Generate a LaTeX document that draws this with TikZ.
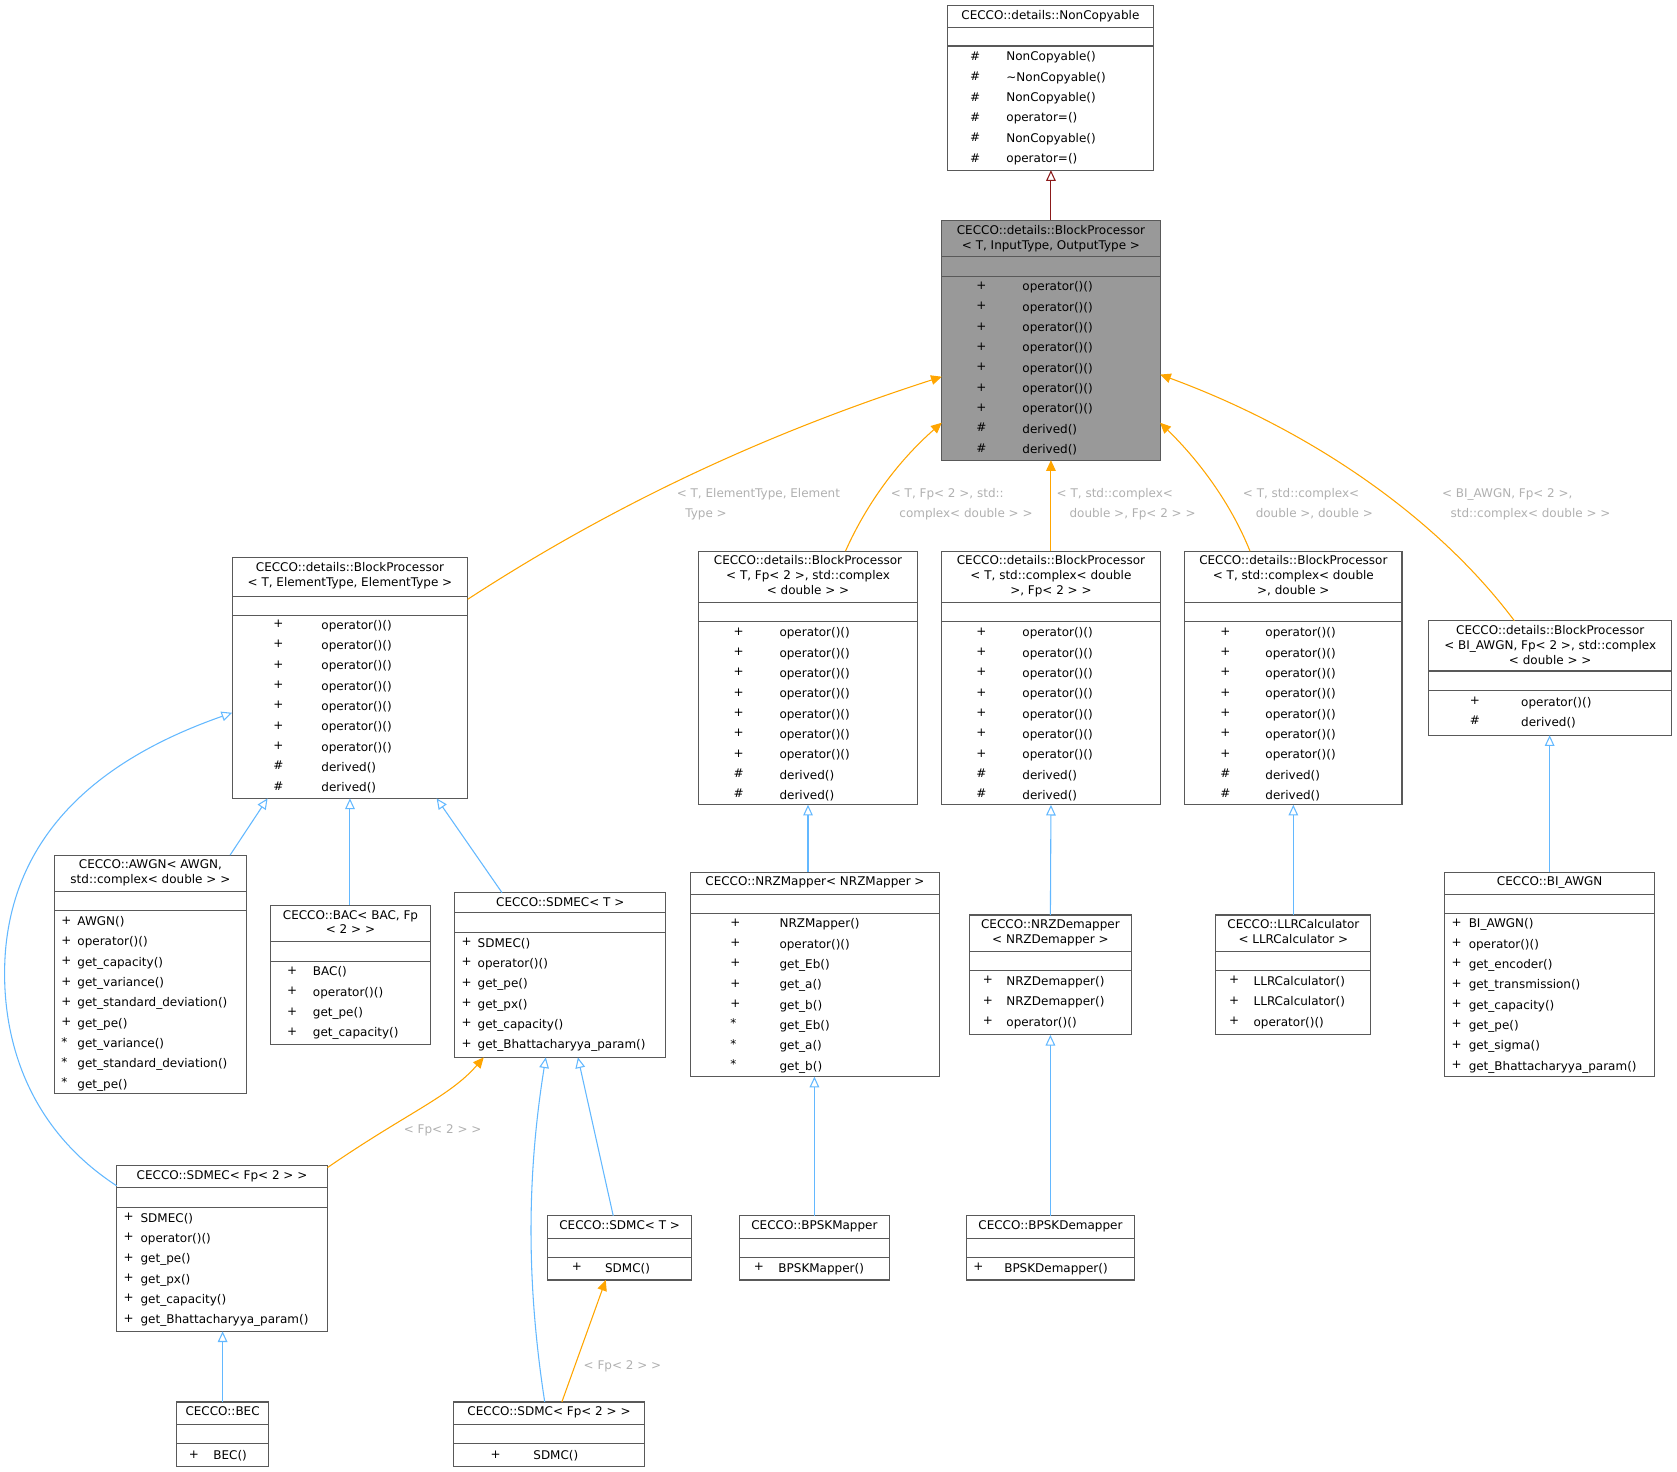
\documentclass[tikz,border=0pt]{standalone}
\usepackage{fontspec}
\setmainfont{DejaVu Sans}
\usetikzlibrary{arrows.meta, calc}
\definecolor{boxgray}{HTML}{999999}
\definecolor{inherit}{HTML}{63B8FF}
\definecolor{templ}{HTML}{FFA500}
\definecolor{ncred}{HTML}{8B1A1A}
\definecolor{lbl}{HTML}{B0B0B0}

% class box: name, x1, y1, x2, y2, title rule, attribute rule, title, fill
\newcommand{\classbox}[9]{%
  \node[draw=black!65, fill=#9, line width=0.5pt, inner sep=0, outer sep=0, anchor=north west,
    minimum width={(#4-#2)*0.5pt}, minimum height={(#5-#3)*0.5pt}] (#1) at (#2,#3) {};
  \draw[black!65, line width=0.5pt] (#2,#6) -- (#4,#6) (#2,#7) -- (#4,#7);
  \node[titletext, anchor=north] at ({(#2+#4)/2},#3+4) {#8};
}
% members: symbol x, name x, top y, symbols, names
\newcommand{\members}[5]{%
  \node[membertext, anchor=north west] at (#1,#3) {#4};
  \node[membertext, anchor=north west] at (#2,#3) {#5};
}
\def\symnine{+\\+\\+\\+\\+\\+\\+\\\#\\\#}
\def\opnine{operator()()\\operator()()\\operator()()\\operator()()\\operator()()\\operator()()\\operator()()\\derived()\\derived()}
\def\symsix{+\\+\\+\\+\\+\\+}
\def\sdmecops{SDMEC()\\operator()()\\get\_pe()\\get\_px()\\get\_capacity()\\get\_Bhattacharyya\_param()}

\begin{document}
\begin{tikzpicture}[x=0.5pt, y=-0.5pt,
  titletext/.style={inner sep=0, align=center, font=\fontsize{5.6}{7}\selectfont},
  membertext/.style={inner sep=0, align=left, font=\fontsize{5.6}{9.5}\selectfont},
  isa/.style={draw=inherit, line width=0.5pt, -{Triangle[open, length=5pt, width=4.5pt]}},
  tpl/.style={draw=templ, line width=0.5pt, -{Triangle[length=5pt, width=4.5pt, fill=templ]}},
  tpllabel/.style={text=lbl, align=left, inner sep=0, font=\fontsize{5.6}{9.5}\selectfont}]
  \useasboundingbox (0,0) rectangle (1567,1375);

% CLASSES

  \classbox{noncopy}{885}{5}{1078}{159}{26}{43}{CECCO::details::NonCopyable}{white}
  \members{906}{940}{48}{\#\\\#\\\#\\\#\\\#\\\#}{NonCopyable()\\\char"007ENonCopyable()\\NonCopyable()\\operator=()\\NonCopyable()\\operator=()}

  \classbox{bpmain}{880}{206}{1084}{430}{240}{258}{CECCO::details::BlockProcessor\\< T, InputType, OutputType >}{boxgray}
  \members{912}{955}{263}{\symnine}{\opnine}

  \classbox{bpelem}{217}{521}{437}{746}{557}{575}{CECCO::details::BlockProcessor\\< T, ElementType, ElementType >}{white}
  \members{255}{300}{579}{\symnine}{\opnine}

  \classbox{bpfpc}{653}{515}{857}{752}{563}{581}{CECCO::details::BlockProcessor\\< T, Fp< 2 >, std::complex\\< double > >}{white}
  \members{685}{728}{586}{\symnine}{\opnine}

  \classbox{bpcfp}{880}{515}{1084}{752}{563}{581}{CECCO::details::BlockProcessor\\< T, std::complex< double\\>, Fp< 2 > >}{white}
  \members{912}{955}{586}{\symnine}{\opnine}

  \classbox{bpcd}{1107}{515}{1310}{752}{563}{581}{CECCO::details::BlockProcessor\\< T, std::complex< double\\>, double >}{white}
  \members{1140}{1182}{586}{\symnine}{\opnine}

  \classbox{bpbi}{1335}{580}{1562}{687}{627}{645}{CECCO::details::BlockProcessor\\< BI\_AWGN, Fp< 2 >, std::complex\\< double > >}{white}
  \members{1373}{1421}{651}{+\\\#}{operator()()\\derived()}

  \classbox{awgn}{51}{799}{230}{1022}{833}{851}{CECCO::AWGN< AWGN,\\ std::complex< double > >}{white}
  \members{57}{72}{856}{+\\+\\+\\+\\+\\+\\*\\*\\*}{AWGN()\\operator()()\\get\_capacity()\\get\_variance()\\get\_standard\_deviation()\\get\_pe()\\get\_variance()\\get\_standard\_deviation()\\get\_pe()}

  \classbox{bac}{253}{846}{402}{976}{880}{898}{CECCO::BAC< BAC, Fp\\< 2 > >}{white}
  \members{268}{292}{903}{+\\+\\+\\+}{BAC()\\operator()()\\get\_pe()\\get\_capacity()}

  \classbox{sdmec}{425}{834}{622}{988}{853}{871}{CECCO::SDMEC< T >}{white}
  \members{431}{446}{876}{\symsix}{\sdmecops}

  \classbox{nrzmap}{645}{815}{878}{1006}{836}{854}{CECCO::NRZMapper< NRZMapper >}{white}
  \members{682}{728}{858}{+\\+\\+\\+\\+\\*\\*\\*}{NRZMapper()\\operator()()\\get\_Eb()\\get\_a()\\get\_b()\\get\_Eb()\\get\_a()\\get\_b()}

  \classbox{nrzdemap}{906}{855}{1057}{967}{889}{907}{CECCO::NRZDemapper\\< NRZDemapper >}{white}
  \members{918}{940}{912}{+\\+\\+}{NRZDemapper()\\NRZDemapper()\\operator()()}

  \classbox{llr}{1136}{855}{1281}{967}{889}{907}{CECCO::LLRCalculator\\< LLRCalculator >}{white}
  \members{1148}{1171}{912}{+\\+\\+}{LLRCalculator()\\LLRCalculator()\\operator()()}

  \classbox{biawgn}{1350}{815}{1546}{1006}{836}{854}{CECCO::BI\_AWGN}{white}
  \members{1356}{1372}{858}{+\\+\\+\\+\\+\\+\\+\\+}{BI\_AWGN()\\operator()()\\get\_encoder()\\get\_transmission()\\get\_capacity()\\get\_pe()\\get\_sigma()\\get\_Bhattacharyya\_param()}

  \classbox{sdmecfp}{109}{1089}{306}{1244}{1110}{1128}{CECCO::SDMEC< Fp< 2 > >}{white}
  \members{115}{131}{1133}{\symsix}{\sdmecops}

  \classbox{sdmc}{512}{1136}{646}{1196}{1157}{1175}{CECCO::SDMC< T >}{white}
  \members{534}{565}{1180}{+}{SDMC()}

  \classbox{bpskmap}{691}{1136}{831}{1196}{1157}{1175}{CECCO::BPSKMapper}{white}
  \members{704}{727}{1180}{+}{BPSKMapper()}

  \classbox{bpskdemap}{903}{1136}{1060}{1196}{1157}{1175}{CECCO::BPSKDemapper}{white}
  \members{909}{938}{1180}{+}{BPSKDemapper()}

  \classbox{bec}{165}{1310}{251}{1370}{1331}{1349}{CECCO::BEC}{white}
  \members{176}{199}{1355}{+}{BEC()}

  \classbox{sdmcfp}{424}{1310}{602}{1370}{1331}{1349}{CECCO::SDMC< Fp< 2 > >}{white}
  \members{458}{498}{1355}{+}{SDMC()}

% INHERITANCE

  \draw[draw=ncred, line width=0.5pt, -{Triangle[open, length=5pt, width=4.5pt]}]
    (bpmain.north) -- (noncopy.south -| bpmain.north);

  \draw[isa] ($(awgn.north west)+(164,0)$) -- ($(bpelem.south west)+(33,0)$);
  \draw[isa] ($(bac.north west)+(74,0)$) -- ($(bpelem.south west)+(110,0)$);
  \draw[isa] ($(sdmec.north west)+(44,0)$) -- ($(bpelem.south west)+(191,0)$);
  \draw[isa] ($(sdmecfp.north west)+(0,19)$) .. controls (20,1050) and (0,960) .. (5,890)
    .. controls (15,760) and (120,700) .. ($(bpelem.north west)+(0,145)$);
  \draw[isa] (nrzmap.north -| bpfpc.south) -- (bpfpc.south);
  \draw[isa] (nrzdemap.north) -- (bpcfp.south);
  \draw[isa] (llr.north) -- (bpcd.south);
  \draw[isa] (biawgn.north) -- (bpbi.south -| biawgn.north);
  \draw[isa] (bec.north) -- (sdmecfp.south -| bec.north);
  \draw[isa] ($(sdmc.north west)+(61,0)$) -- ($(sdmec.south west)+(115,0)$);
  \draw[isa] ($(sdmcfp.north west)+(85,0)$) .. controls (492,1200) and (492,1100) .. ($(sdmec.south west)+(85,0)$);
  \draw[isa] (bpskmap.north) -- (nrzmap.south -| bpskmap.north);
  \draw[isa] (bpskdemap.north) -- (nrzdemap.south -| bpskdemap.north);

% TEMPLATE INSTANCES

  \draw[tpl] ($(bpelem.north east)+(0,39)$) .. controls (560,480) and (700,410) .. ($(bpmain.north west)+(0,146)$);
  \draw[tpl] ($(bpfpc.north west)+(137,0)$) .. controls (810,470) and (840,430) .. ($(bpmain.north west)+(0,189)$);
  \draw[tpl] (bpcfp.north) -- (bpmain.south);
  \draw[tpl] ($(bpcd.north west)+(61,0)$) .. controls (1150,470) and (1120,430) .. ($(bpmain.north east)+(0,189)$);
  \draw[tpl] ($(bpbi.north west)+(80,0)$) .. controls (1340,480) and (1220,400) .. ($(bpmain.north east)+(0,144)$);
  \draw[tpl] ($(sdmecfp.north east)+(0,2)$) .. controls (380,1040) and (420,1025) .. ($(sdmec.south west)+(27,0)$);
  \draw[tpl] ($(sdmcfp.north west)+(101,0)$) -- ($(sdmc.south west)+(54,0)$);

  \node[tpllabel, anchor=north west] (lelem) at (632,456) {< T, ElementType, Element\\\hspace*{4pt}Type >};
  \node[tpllabel, anchor=north west] (lfpc) at (832,456) {< T, Fp< 2 >, std::\\\hspace*{4pt}complex< double > >};
  \node[tpllabel, anchor=north west] (lcfp) at (987,456) {< T, std::complex<\\\hspace*{6pt}double >, Fp< 2 > >};
  \node[tpllabel, anchor=north west] (lcd) at (1161,456) {< T, std::complex<\\\hspace*{6pt}double >, double >};
  \node[tpllabel, anchor=north west] (lbi) at (1347,456) {< BI\_AWGN, Fp< 2 >,\\\hspace*{4pt}std::complex< double > >};
  \node[tpllabel, anchor=north west] (lsdmec) at (377,1050) {< Fp< 2 > >};
  \node[tpllabel, anchor=north west] (lsdmc) at (545,1271) {< Fp< 2 > >};

\end{tikzpicture}
\end{document}
